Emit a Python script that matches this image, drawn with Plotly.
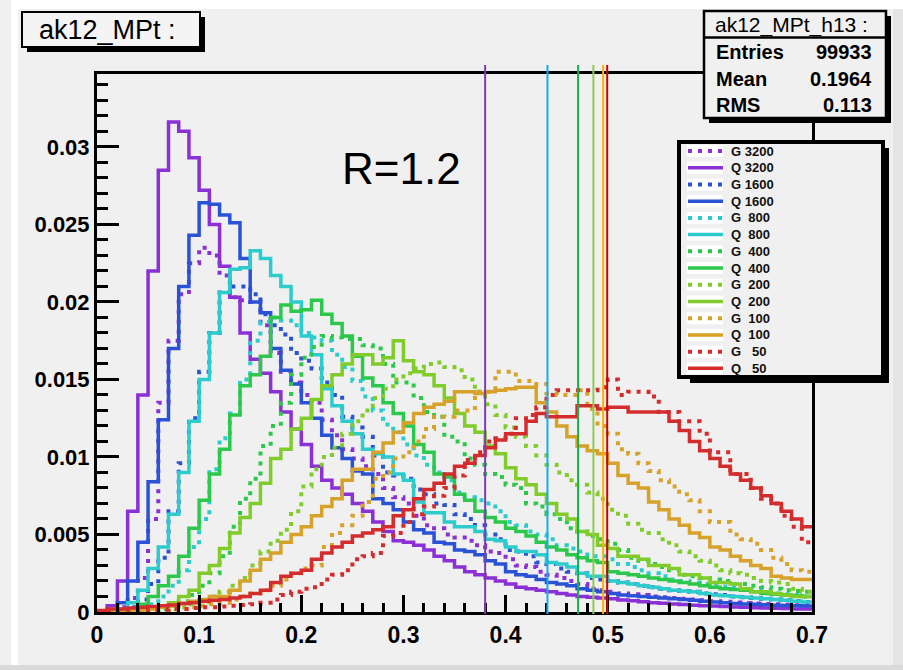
import plotly.graph_objects as go

# ---------------- data (bin contents in units of 1e-3) ----------------
BIN_W = 0.01
N_BINS = 70
X_MAX = 0.7
Y_MAX = 0.0347
UNIT = 1e-3

G3200 = [0.0, 0.1, 0.3, 0.9, 2.2, 6.0, 13.5, 17.5, 20.5, 22.5,
         23.5, 23.0, 21.7, 20.3, 20.1, 20.0, 18.5, 16.7, 15.5, 14.8,
         14.0, 13.5, 12.4, 11.4, 10.5, 9.9, 9.4, 8.9, 8.0, 7.4,
         7.0, 6.2, 5.6, 5.4, 5.0, 4.8, 4.6, 4.3, 3.9, 3.8,
         3.4, 3.0, 2.9, 2.6, 2.4, 2.2, 2.0, 1.8, 1.5, 1.4,
         1.3, 1.2, 1.15, 1.1, 1.0, 0.95, 0.9, 0.85, 0.8, 0.75,
         0.7, 0.66, 0.62, 0.58, 0.55, 0.52, 0.5, 0.47, 0.44, 0.42]
Q3200 = [0.05, 0.4, 2.0, 6.5, 14.0, 22.0, 28.5, 31.6, 31.0, 29.3,
         27.2, 25.0, 22.3, 20.3, 18.0, 16.3, 15.4, 14.2, 12.9, 11.8,
         10.8, 9.4, 8.5, 8.0, 7.6, 7.0, 6.5, 5.8, 5.2, 4.6,
         4.5, 4.3, 4.0, 3.6, 3.3, 2.9, 2.6, 2.4, 2.2, 2.0,
         1.8, 1.6, 1.5, 1.4, 1.3, 1.2, 1.1, 1.0, 0.95, 0.9,
         0.85, 0.78, 0.72, 0.66, 0.6, 0.56, 0.52, 0.48, 0.44, 0.41,
         0.38, 0.35, 0.32, 0.3, 0.28, 0.26, 0.24, 0.22, 0.2, 0.19]
G1600 = [0.0, 0.0, 0.1, 0.3, 0.8, 1.8, 3.5, 6.5, 9.6, 12.5,
         15.5, 18.0, 20.6, 21.0, 21.0, 20.5, 19.2, 18.5, 17.9, 16.7,
         16.2, 15.7, 14.8, 14.0, 12.6, 11.9, 11.3, 10.1, 9.0, 8.8,
         8.6, 7.9, 7.6, 7.0, 6.9, 6.3, 6.0, 5.6, 5.0, 4.7,
         4.0, 3.9, 3.6, 3.2, 3.1, 2.8, 2.6, 2.5, 2.2, 2.1,
         2.0, 1.9, 1.8, 1.7, 1.6, 1.5, 1.4, 1.35, 1.3, 1.2,
         1.15, 1.1, 1.0, 0.95, 0.9, 0.85, 0.8, 0.75, 0.7, 0.65]
Q1600 = [0.0, 0.1, 0.6, 2.0, 4.5, 8.4, 12.4, 17.0, 21.0, 24.3,
         26.4, 26.3, 25.6, 25.1, 22.8, 20.0, 19.3, 17.0, 15.6, 14.7,
         13.5, 12.5, 11.4, 10.6, 9.9, 9.1, 8.9, 7.3, 7.0, 6.6,
         5.8, 5.3, 5.1, 4.5, 4.4, 4.0, 3.9, 3.7, 3.3, 3.1,
         2.6, 2.4, 2.3, 2.1, 1.9, 1.8, 1.7, 1.5, 1.4, 1.3,
         1.2, 1.1, 1.05, 1.0, 0.95, 0.9, 0.85, 0.8, 0.75, 0.7,
         0.65, 0.6, 0.55, 0.52, 0.5, 0.47, 0.44, 0.42, 0.4, 0.38]
G800 = [0.0, 0.0, 0.0, 0.05, 0.2, 0.5, 1.0, 1.7, 2.7, 4.2,
        6.0, 9.2, 11.2, 12.8, 15.0, 17.5, 18.7, 19.0, 18.8, 18.5,
        18.0, 17.7, 17.5, 16.6, 15.8, 14.9, 13.9, 13.0, 12.1, 11.6,
        10.8, 10.1, 9.5, 9.0, 8.5, 7.7, 7.4, 7.2, 7.0, 6.5,
        5.8, 5.6, 5.2, 5.0, 4.7, 4.3, 4.1, 3.9, 3.6, 3.6,
        3.4, 3.1, 2.9, 2.7, 2.5, 2.3, 2.1, 2.0, 1.9, 1.8,
        1.7, 1.65, 1.55, 1.45, 1.4, 1.3, 1.2, 1.15, 1.1, 1.0]
Q800 = [0.0, 0.05, 0.2, 0.6, 1.4, 2.8, 4.2, 6.3, 9.0, 12.3,
        15.0, 18.0, 20.6, 22.1, 22.2, 23.3, 22.8, 21.7, 21.0, 20.0,
        17.8, 16.6, 14.4, 13.3, 12.3, 11.5, 10.5, 10.2, 10.0, 8.9,
        8.5, 7.1, 6.4, 6.4, 5.8, 5.5, 5.5, 5.2, 4.7, 4.6,
        4.2, 3.9, 3.9, 3.7, 3.2, 3.1, 2.9, 2.5, 2.3, 2.3,
        2.0, 1.9, 1.8, 1.7, 1.6, 1.5, 1.4, 1.35, 1.3, 1.2,
        1.1, 1.05, 1.0, 0.95, 0.9, 0.85, 0.8, 0.75, 0.7, 0.65]
G400 = [0.0, 0.0, 0.0, 0.0, 0.05, 0.1, 0.2, 0.4, 0.7, 1.1,
        1.7, 2.5, 3.6, 5.5, 7.3, 8.6, 10.7, 12.0, 13.5, 15.3,
        16.4, 17.1, 17.8, 17.7, 17.6, 17.6, 17.2, 17.0, 16.0, 14.8,
        14.8, 13.8, 12.9, 12.6, 11.3, 11.0, 9.9, 9.5, 8.9, 8.7,
        8.2, 8.0, 7.0, 6.8, 6.3, 6.0, 5.4, 5.2, 4.9, 4.7,
        4.4, 4.0, 3.5, 3.3, 3.1, 2.9, 2.7, 2.4, 2.3, 2.2,
        2.1, 2.0, 1.8, 1.8, 1.7, 1.6, 1.5, 1.4, 1.35, 1.3]
Q400 = [0.0, 0.0, 0.05, 0.2, 0.5, 1.0, 1.7, 2.3, 3.6, 5.4,
        7.2, 8.9, 10.5, 12.7, 14.6, 15.3, 16.5, 19.0, 19.8, 19.4,
        19.5, 20.1, 19.2, 18.6, 17.8, 16.5, 15.1, 14.6, 13.5, 12.8,
        12.0, 10.8, 10.3, 8.9, 8.7, 7.6, 7.2, 6.5, 6.1, 5.8,
        5.4, 5.2, 4.9, 4.5, 4.2, 4.0, 3.7, 3.5, 3.3, 3.2,
        2.6, 2.5, 2.4, 2.3, 2.2, 2.1, 2.0, 1.9, 1.8, 1.7,
        1.6, 1.5, 1.45, 1.4, 1.3, 1.2, 1.15, 1.1, 1.05, 1.0]
G200 = [0.0, 0.0, 0.0, 0.0, 0.0, 0.05, 0.1, 0.2, 0.3, 0.5,
        0.7, 1.0, 1.3, 1.7, 2.2, 3.0, 3.9, 4.6, 5.3, 6.5,
        8.1, 9.2, 10.0, 10.6, 11.5, 12.3, 13.0, 13.8, 14.4, 15.0,
        15.4, 15.7, 16.0, 16.1, 15.8, 15.6, 15.0, 14.2, 13.4, 12.7,
        11.9, 11.3, 10.7, 10.1, 9.5, 9.0, 8.5, 8.2, 7.7, 7.3,
        6.6, 6.2, 5.7, 5.3, 5.1, 4.7, 4.3, 3.9, 3.6, 3.3,
        3.0, 2.7, 2.5, 2.4, 2.2, 2.0, 1.9, 1.8, 1.5, 1.3]
Q200 = [0.0, 0.0, 0.0, 0.05, 0.1, 0.2, 0.35, 0.6, 1.0, 1.4,
        2.5, 3.0, 4.1, 5.1, 6.1, 7.0, 8.3, 9.9, 10.5, 11.8,
        12.5, 13.7, 14.6, 15.3, 16.0, 16.6, 16.6, 16.0, 16.4, 17.5,
        16.2, 15.5, 15.3, 14.6, 13.8, 12.8, 12.0, 11.6, 10.7, 10.2,
        9.3, 8.6, 8.2, 7.6, 7.0, 6.3, 6.0, 5.2, 5.0, 4.3,
        4.1, 3.6, 3.6, 3.4, 3.0, 3.0, 2.8, 2.4, 2.4, 2.2,
        1.9, 1.9, 1.8, 1.5, 1.3, 1.3, 1.2, 1.1, 1.0, 1.0]
G100 = [0.0, 0.0, 0.0, 0.0, 0.0, 0.05, 0.1, 0.15, 0.2, 0.3,
        0.4, 0.5, 0.6, 0.8, 1.0, 1.2, 1.4, 1.7, 2.1, 2.5,
        2.8, 3.0, 4.2, 5.1, 5.6, 6.2, 7.1, 8.6, 9.0, 9.9,
        10.3, 11.0, 11.8, 12.6, 12.6, 13.0, 13.0, 14.2, 14.2, 15.5,
        15.5, 14.9, 14.9, 14.7, 14.1, 14.0, 14.0, 14.3, 13.1, 12.0,
        11.5, 10.5, 10.2, 9.6, 9.1, 8.5, 8.1, 7.6, 7.2, 6.5,
        5.8, 5.8, 5.0, 4.7, 4.4, 4.0, 3.5, 3.1, 2.7, 2.6]
Q100 = [0.0, 0.0, 0.05, 0.1, 0.15, 0.2, 0.3, 0.4, 0.55, 0.7,
        0.8, 1.0, 1.0, 1.4, 2.0, 2.7, 3.4, 3.8, 4.5, 5.0,
        5.5, 6.2, 6.8, 7.3, 8.5, 9.2, 9.2, 10.3, 10.9, 11.6,
        12.2, 12.8, 13.2, 13.4, 13.6, 14.2, 14.2, 14.1, 14.2, 14.3,
        14.4, 14.5, 14.5, 13.5, 12.9, 12.0, 11.3, 10.7, 10.4, 10.2,
        9.6, 8.8, 8.3, 8.0, 7.1, 6.6, 6.0, 5.6, 5.1, 4.8,
        4.2, 4.0, 3.6, 3.3, 3.0, 2.8, 2.3, 2.2, 2.1, 2.1]
G50 = [0.05, 0.05, 0.1, 0.1, 0.1, 0.15, 0.15, 0.2, 0.2, 0.25,
       0.3, 0.3, 0.35, 0.4, 0.45, 0.5, 0.6, 0.8, 1.1, 1.3,
       1.5, 1.6, 2.1, 2.4, 2.7, 3.4, 3.6, 3.8, 4.9, 5.1,
       5.8, 6.3, 6.8, 7.5, 8.0, 8.8, 9.8, 10.3, 11.0, 11.2,
       11.5, 12.5, 12.7, 13.2, 14.0, 14.3, 14.3, 14.3, 14.3, 14.5,
       15.0, 14.0, 14.2, 14.2, 13.9, 12.9, 12.9, 12.3, 12.3, 11.5,
       10.3, 10.3, 8.9, 8.9, 8.0, 7.3, 7.0, 6.2, 5.5, 4.5]
Q50 = [0.1, 0.2, 0.2, 0.25, 0.3, 0.35, 0.4, 0.45, 0.55, 0.6,
       0.7, 0.75, 0.8, 0.9, 1.0, 1.2, 1.4, 1.9, 2.3, 2.5,
       2.7, 3.4, 3.8, 4.2, 4.5, 4.9, 5.1, 5.3, 5.5, 6.2,
       6.6, 7.3, 7.9, 8.3, 8.9, 9.4, 9.6, 10.1, 10.6, 11.1,
       11.5, 11.5, 12.3, 12.8, 12.6, 12.6, 12.6, 13.3, 13.3, 13.1,
       13.2, 13.2, 12.9, 12.9, 12.9, 12.9, 12.3, 11.7, 11.0, 10.4,
       9.9, 9.4, 8.9, 8.5, 8.0, 7.5, 7.0, 6.5, 6.0, 5.5]

series_names = ["G 3200", "Q 3200", "G 1600", "Q 1600", "G  800", "Q  800",
                "G  400", "Q  400", "G  200", "Q  200", "G  100", "Q  100",
                "G   50", "Q   50"]
series_values = [G3200, Q3200, G1600, Q1600, G800, Q800, G400, Q400,
                 G200, Q200, G100, Q100, G50, Q50]
mass_colors = ["#8b30d4", "#8b30d4", "#2a52d4", "#2a52d4", "#2ccccc", "#2ccccc",
               "#2cc84c", "#2cc84c", "#80cc2a", "#80cc2a", "#d6a22a", "#d6a22a",
               "#d42c2c", "#d42c2c"]

cut_x = [0.38, 0.441, 0.471, 0.486, 0.4955, 0.4995]
cut_colors = ["#7a3eb0", "#14aef0", "#14b04e", "#8ccc50", "#f5b400", "#cc0000"]

y_tick_vals = [0, 0.005, 0.01, 0.015, 0.02, 0.025, 0.03]
y_tick_text = ["0", "0.005", "0.01", "0.015", "0.02", "0.025", "0.03"]
x_tick_vals = [0, 0.1, 0.2, 0.3, 0.4, 0.5, 0.6, 0.7]
x_tick_text = ["0", "0.1", "0.2", "0.3", "0.4", "0.5", "0.6", "0.7"]

hist_title = "ak12_MPt :"
stats_title = "ak12_MPt_h13 :"
stats_labels = ["Entries", "Mean", "RMS"]
stats_values = ["99933", "0.1964", "0.113"]
radius_label = "R=1.2"

# ---------------- layout geometry (pixels) ----------------
W, H = 903, 670
L, R, T, B = 97, 812, 74, 612
BG = "#f0f0f0"
FONT = "Liberation Sans"


def xp(px):
    return (px - L) / (R - L)


def yp(py):
    return (B - py) / (B - T)


def rect(x0, y0, x1, y1, fill=None, line_color=None, line_width=0, layer="above"):
    d = dict(type="rect", xref="paper", yref="paper",
             x0=xp(x0), x1=xp(x1), y0=yp(y1), y1=yp(y0), layer=layer,
             line=dict(width=line_width, color=line_color or "rgba(0,0,0,0)"))
    d["fillcolor"] = fill if fill else "rgba(0,0,0,0)"
    return d


def hline(x0, x1, y, color, width, dash="solid"):
    return dict(type="line", xref="paper", yref="paper", x0=xp(x0), x1=xp(x1),
                y0=yp(y), y1=yp(y), layer="above",
                line=dict(color=color, width=width, dash=dash))


fig = go.Figure()
edges = [round(i * BIN_W, 4) for i in range(N_BINS + 1)]

for name, vals, col in zip(series_names, series_values, mass_colors):
    dotted = name.startswith("G")
    yv = [v * UNIT for v in vals] + [vals[-1] * UNIT]
    fig.add_trace(go.Scatter(
        x=edges, y=yv, mode="lines", name=name, showlegend=False,
        line=dict(shape="hv", color=col, width=4 if dotted else 3.5,
                  dash="4px,6px" if dotted else "solid"),
        hoverinfo="skip"))

shapes = []
# canvas decorations (window edges around the ROOT canvas)
shapes.append(rect(11, 8, 18, H, fill="#ffffff", layer="below"))
shapes.append(rect(11, 0, W, 9, fill="#ffffff", layer="below"))
shapes.append(rect(893, 9, W, H, fill="#e4e4e4", layer="below"))
shapes.append(rect(0, 665, W, H, fill="#dadada", layer="below"))

# cut lines
for cx, cc in zip(cut_x, cut_colors):
    shapes.append(dict(type="line", xref="x", yref="paper", x0=cx, x1=cx,
                       y0=yp(614), y1=yp(65), layer="above",
                       line=dict(color=cc, width=2)))

# title box
shapes.append(rect(27, 17, 205, 52, fill="#000000"))
shapes.append(rect(22, 12, 200, 47, fill="#f4f4f4", line_color="#000000", line_width=2))

# stats box
shapes.append(rect(709, 16, 891, 123, fill="#000000"))
shapes.append(rect(704, 11, 886, 118, fill=BG, line_color="#000000", line_width=2.5))
shapes.append(hline(704, 886, 37.5, "#000000", 2.5))

# legend box
shapes.append(rect(690, 148, 889, 383, fill="#000000"))
shapes.append(rect(679, 142, 883, 377, fill=BG, line_color="#000000", line_width=4))

annotations = []
row0, row_step = 151, 16.72
for i, (name, col) in enumerate(zip(series_names, mass_colors)):
    yc = row0 + i * row_step
    dotted = name.startswith("G")
    shapes.append(rect(687, yc - 6, 723, yc + 6, fill="#ffffff"))
    shapes.append(hline(688, 723, yc, col, 4 if dotted else 3.5,
                        "4px,6px" if dotted else "solid"))
    annotations.append(dict(xref="paper", yref="paper", x=xp(729), y=yp(yc),
                            xanchor="left", yanchor="middle", showarrow=False,
                            text=name.replace(" ", "\u00a0"),
                            font=dict(family=FONT, size=13, color="#111111", weight="bold")))

annotations.append(dict(xref="paper", yref="paper", x=xp(107), y=yp(30),
                        xanchor="center", yanchor="middle", showarrow=False,
                        text=hist_title,
                        font=dict(family=FONT, size=27, color="#000000")))
annotations.append(dict(xref="paper", yref="paper", x=xp(791), y=yp(25),
                        xanchor="center", yanchor="middle", showarrow=False,
                        text=stats_title,
                        font=dict(family=FONT, size=21, color="#000000")))
for lab, val, yy in zip(stats_labels, stats_values, [52, 79, 105]):
    annotations.append(dict(xref="paper", yref="paper", x=xp(714), y=yp(yy),
                            xanchor="left", yanchor="middle", showarrow=False, text=lab,
                            font=dict(family=FONT, size=20, color="#000000", weight="bold")))
    annotations.append(dict(xref="paper", yref="paper", x=xp(874), y=yp(yy),
                            xanchor="right", yanchor="middle", showarrow=False, text=val,
                            font=dict(family=FONT, size=20, color="#000000", weight="bold")))
annotations.append(dict(xref="paper", yref="paper", x=xp(401), y=yp(168),
                        xanchor="center", yanchor="middle", showarrow=False,
                        text=radius_label,
                        font=dict(family=FONT, size=44, color="#000000")))

fig.update_layout(
    width=W, height=H, margin=dict(l=L, r=W - R, t=T, b=H - B),
    paper_bgcolor=BG, plot_bgcolor=BG, showlegend=False,
    shapes=shapes, annotations=annotations,
    xaxis=dict(range=[0, X_MAX], showgrid=False, zeroline=False,
               showline=True, mirror=True, linecolor="#000000", linewidth=3,
               ticks="inside", ticklen=17, tickwidth=3, tickcolor="#000000",
               tickvals=x_tick_vals, ticktext=x_tick_text,
               minor=dict(ticks="inside", ticklen=9, tickwidth=2.5,
                          tickcolor="#000000", dtick=0.02, tick0=0, showgrid=False),
               tickfont=dict(family=FONT, size=23, color="#000000", weight="bold")),
    yaxis=dict(range=[0, Y_MAX], showgrid=False, zeroline=False,
               showline=True, mirror=True, linecolor="#000000", linewidth=3,
               ticks="inside", ticklen=22, tickwidth=3, tickcolor="#000000",
               tickvals=y_tick_vals, ticktext=y_tick_text,
               minor=dict(ticks="inside", ticklen=11, tickwidth=2.5,
                          tickcolor="#000000", dtick=0.001, tick0=0, showgrid=False),
               tickfont=dict(family=FONT, size=22, color="#000000", weight="bold")),
)

fig.write_html("out.html")
